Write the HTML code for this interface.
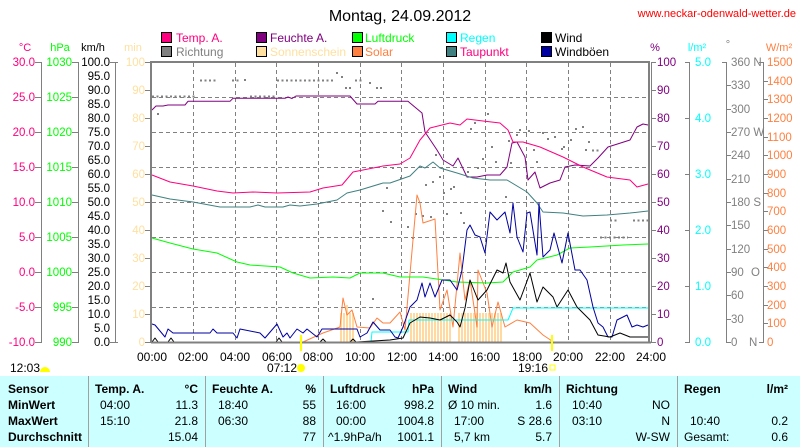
<!DOCTYPE html>
<html><head><meta charset="utf-8"><style>
html,body{margin:0;padding:0;background:#fff}
svg{display:block;font-family:"Liberation Sans",sans-serif}
</style></head><body>
<svg width="800" height="447" viewBox="0 0 800 447" xmlns="http://www.w3.org/2000/svg">
<rect width="800" height="447" fill="#fff"/>
<text x="400" y="21" font-size="16" text-anchor="middle" fill="#000">Montag, 24.09.2012</text>
<text x="796" y="17" font-size="11" text-anchor="end" fill="#ff0000">www.neckar-odenwald-wetter.de</text>
<g font-size="12">
<rect x="161.5" y="32.5" width="10" height="10" fill="#ff0080" stroke="#000"/><text x="176" y="42" fill="#ff0080">Temp. A.</text>
<rect x="161.5" y="46.5" width="10" height="10" fill="#808080" stroke="#000"/><text x="176" y="56" fill="#808080">Richtung</text>
<rect x="256.5" y="32.5" width="10" height="10" fill="#800080" stroke="#000"/><text x="270" y="42" fill="#800080">Feuchte A.</text>
<rect x="256.5" y="46.5" width="10" height="10" fill="#ffe0a0" stroke="#000"/><text x="270" y="56" fill="#ffe0a0">Sonnenschein</text>
<rect x="352.5" y="32.5" width="10" height="10" fill="#00ff00" stroke="#000"/><text x="365" y="42" fill="#00ff00">Luftdruck</text>
<rect x="352.5" y="46.5" width="10" height="10" fill="#ff8040" stroke="#000"/><text x="365" y="56" fill="#ff8040">Solar</text>
<rect x="446.5" y="32.5" width="10" height="10" fill="#00ffff" stroke="#000"/><text x="460" y="42" fill="#00ffff">Regen</text>
<rect x="446.5" y="46.5" width="10" height="10" fill="#408080" stroke="#000"/><text x="460" y="56" fill="#ff0080">Taupunkt</text>
<rect x="541.5" y="32.5" width="10" height="10" fill="#000" stroke="#000"/><text x="555" y="42" fill="#000">Wind</text>
<rect x="541.5" y="46.5" width="10" height="10" fill="#0000a0" stroke="#000"/><text x="555" y="56" fill="#000">Windböen</text>
</g>
<g font-size="11">
<text x="25" y="51" text-anchor="middle" fill="#ff0080">°C</text>
<text x="60" y="51" text-anchor="middle" fill="#00ff00">hPa</text>
<text x="93" y="51" text-anchor="middle" fill="#000">km/h</text>
<text x="133" y="51" text-anchor="middle" fill="#ffe0a0">min</text>
<text x="655" y="51" text-anchor="middle" fill="#800080">%</text>
<text x="697" y="51" text-anchor="middle" fill="#00ffff">l/m²</text>
<text x="728" y="48" text-anchor="middle" fill="#808080">°</text>
<text x="779" y="51" text-anchor="middle" fill="#ff8040">W/m²</text>
</g>
<g stroke="#808080" stroke-width="1" fill="none">
<line x1="41.5" y1="62" x2="41.5" y2="342"/>
<line x1="78.5" y1="62" x2="78.5" y2="342"/>
<line x1="115.5" y1="62" x2="115.5" y2="342"/>
<path d="M35 62.5h7M35 97.5h7M35 132.5h7M35 167.5h7M35 202.5h7M35 237.5h7M35 272.5h7M35 307.5h7M35 342.5h7"/>
<path d="M72 62.5h7M72 97.5h7M72 132.5h7M72 167.5h7M72 202.5h7M72 237.5h7M72 272.5h7M72 307.5h7M72 342.5h7"/>
<path d="M110 62.5h8M110 342.5h8"/>
<path d="M145 62.5h6M145 90.5h6M145 118.5h6M145 146.5h6M145 174.5h6M145 202.5h6M145 230.5h6M145 258.5h6M145 286.5h6M145 314.5h6M145 342.5h6"/>
</g>
<g font-size="11.5" text-anchor="end" fill="#ff0080">
<text x="35" y="66">30.0</text><text x="35" y="101">25.0</text><text x="35" y="136">20.0</text><text x="35" y="171">15.0</text><text x="35" y="206">10.0</text><text x="35" y="241">5.0</text><text x="35" y="276">0.0</text><text x="35" y="311">-5.0</text><text x="35" y="346">-10.0</text>
</g>
<g font-size="11.5" text-anchor="end" fill="#00ff00">
<text x="72" y="66">1030</text><text x="72" y="101">1025</text><text x="72" y="136">1020</text><text x="72" y="171">1015</text><text x="72" y="206">1010</text><text x="72" y="241">1005</text><text x="72" y="276">1000</text><text x="72" y="311">995</text><text x="72" y="346">990</text>
</g>
<g font-size="11.5" text-anchor="end" fill="#000">
<text x="110" y="66">100.0</text><text x="110" y="80">95.0</text><text x="110" y="94">90.0</text><text x="110" y="108">85.0</text><text x="110" y="122">80.0</text><text x="110" y="136">75.0</text><text x="110" y="150">70.0</text><text x="110" y="164">65.0</text><text x="110" y="178">60.0</text><text x="110" y="192">55.0</text><text x="110" y="206">50.0</text><text x="110" y="220">45.0</text><text x="110" y="234">40.0</text><text x="110" y="248">35.0</text><text x="110" y="262">30.0</text><text x="110" y="276">25.0</text><text x="110" y="290">20.0</text><text x="110" y="304">15.0</text><text x="110" y="318">10.0</text><text x="110" y="332">5.0</text><text x="110" y="346">0.0</text>
</g>
<g font-size="11.5" text-anchor="end" fill="#ffe0a0">
<text x="145" y="66">100</text><text x="145" y="94">90</text><text x="145" y="122">80</text><text x="145" y="150">70</text><text x="145" y="178">60</text><text x="145" y="206">50</text><text x="145" y="234">40</text><text x="145" y="262">30</text><text x="145" y="290">20</text><text x="145" y="318">10</text><text x="145" y="346">0</text>
</g>
<g stroke="#808080" fill="none">
<line x1="689.5" y1="62" x2="689.5" y2="342"/>
<line x1="726.5" y1="62" x2="726.5" y2="342"/>
<line x1="763.5" y1="62" x2="763.5" y2="342"/>
<path d="M651 62.5h5M651 90.5h5M651 118.5h5M651 146.5h5M651 174.5h5M651 202.5h5M651 230.5h5M651 258.5h5M651 286.5h5M651 314.5h5M651 342.5h5"/>
<path d="M685 62.5h5M685 118.5h5M685 174.5h5M685 230.5h5M685 286.5h5M685 342.5h5"/>
<path d="M722 62.5h5M726 85.5h5M726 109.5h5M726 132.5h5M726 155.5h5M726 179.5h5M726 202.5h5M726 225.5h5M726 249.5h5M726 272.5h5M726 295.5h5M726 319.5h5M726 342.5h5"/>
<path d="M759 62.5h5M759 342.5h5M763 81.5h5M763 99.5h5M763 118.5h5M763 137.5h5M763 155.5h5M763 174.5h5M763 193.5h5M763 211.5h5M763 230.5h5M763 249.5h5M763 267.5h5M763 286.5h5M763 305.5h5M763 323.5h5"/>
</g>
<g font-size="11.5" fill="#800080">
<text x="657" y="66">100</text><text x="657" y="94">90</text><text x="657" y="122">80</text><text x="657" y="150">70</text><text x="657" y="178">60</text><text x="657" y="206">50</text><text x="657" y="234">40</text><text x="657" y="262">30</text><text x="657" y="290">20</text><text x="657" y="318">10</text><text x="657" y="346">0</text>
</g>
<g font-size="11.5" fill="#00ffff">
<text x="695" y="66">5.0</text><text x="695" y="122">4.0</text><text x="695" y="178">3.0</text><text x="695" y="234">2.0</text><text x="695" y="290">1.0</text><text x="695" y="346">0.0</text>
</g>
<g font-size="11.5" fill="#808080">
<text x="731" y="66">360 N</text><text x="731" y="89">330</text><text x="731" y="113">300</text><text x="731" y="136">270 W</text><text x="731" y="159">240</text><text x="731" y="183">210</text><text x="731" y="206">180 S</text><text x="731" y="229">150</text><text x="731" y="253">120</text><text x="731" y="276">90</text><text x="751" y="276">O</text><text x="731" y="299">60</text><text x="731" y="323">30</text><text x="731" y="346">0</text><text x="749" y="346">N</text>
</g>
<g font-size="11.5" fill="#ff8040">
<text x="767" y="66">1500</text><text x="767" y="85">1400</text><text x="767" y="103">1300</text><text x="767" y="122">1200</text><text x="767" y="141">1100</text><text x="767" y="159">1000</text><text x="767" y="178">900</text><text x="767" y="197">800</text><text x="767" y="215">700</text><text x="767" y="234">600</text><text x="767" y="253">500</text><text x="767" y="271">400</text><text x="767" y="290">300</text><text x="767" y="309">200</text><text x="767" y="327">100</text><text x="767" y="346">0</text>
</g>
<g stroke="#808080" stroke-dasharray="4 3" fill="none">
<path d="M193.5 63V342M235.5 63V342M276.5 63V342M318.5 63V342M360.5 63V342M401.5 63V342M443.5 63V342M485.5 63V342M526.5 63V342M568.5 63V342M610.5 63V342"/>
<path d="M152 97.5H648M152 132.5H648M152 167.5H648M152 202.5H648M152 237.5H648M152 272.5H648M152 307.5H648"/>
</g>
<g stroke="#ffd9a0" stroke-width="2">
<path d="M341 342V313M344 342V313M347 342V305M350 342V313M353 342V313"/>
<path d="M411 342V313M414 342V313M417 342V313M420 342V313M423 342V313M426 342V313M429 342V313M432 342V313M435 342V313M438 342V313M441 342V313M444 342V313M447 342V313M450 342V313"/>
<path d="M459 342V313M462 342V313M465 342V313M468 342V313M471 342V313M474 342V313M477 342V313M480 342V313M483 342V313M486 342V313M489 342V313M492 342V313M495 342V313M498 342V313M501 342V313"/>
</g>
<g stroke="#808080" stroke-width="2" stroke-dasharray="2 2.5" fill="none">
<path d="M152 96.5H196M250 96.5H276"/>
<path d="M200 80.5H216M232 80.5H240M277 80.5H334M355 80.5H364"/>
<path d="M592 150.5H600M610 220.5H618M633 220.5H650M600 237.5H628"/>
</g>
<g fill="#808080">
<rect x="244" y="79" width="2" height="2"/><rect x="157" y="113" width="2" height="2"/><rect x="336" y="72" width="2" height="2"/><rect x="341" y="76" width="2" height="2"/><rect x="345" y="87" width="2" height="2"/><rect x="349" y="87" width="2" height="2"/><rect x="369" y="82" width="2" height="2"/><rect x="376" y="87" width="2" height="2"/><rect x="380" y="87" width="2" height="2"/><rect x="392" y="167" width="2" height="2"/><rect x="386" y="187" width="2" height="2"/><rect x="382" y="210" width="2" height="2"/><rect x="390" y="221" width="2" height="2"/><rect x="372" y="298" width="2" height="2"/>
<rect x="487" y="113" width="2" height="2"/><rect x="474" y="122" width="2" height="2"/><rect x="470" y="128" width="2" height="2"/><rect x="519" y="129" width="2" height="2"/><rect x="528" y="130" width="2" height="2"/><rect x="508" y="140" width="2" height="2"/><rect x="516" y="134" width="2" height="2"/><rect x="491" y="146" width="2" height="2"/><rect x="435" y="154" width="2" height="2"/><rect x="482" y="158" width="2" height="2"/><rect x="495" y="161" width="2" height="2"/><rect x="542" y="132" width="2" height="2"/><rect x="547" y="138" width="2" height="2"/><rect x="554" y="136" width="2" height="2"/><rect x="570" y="139" width="2" height="2"/><rect x="563" y="146" width="2" height="2"/><rect x="561" y="148" width="2" height="2"/><rect x="575" y="128" width="2" height="2"/><rect x="582" y="126" width="2" height="2"/><rect x="588" y="141" width="2" height="2"/><rect x="585" y="149" width="2" height="2"/><rect x="533" y="149" width="2" height="2"/><rect x="510" y="162" width="2" height="2"/><rect x="536" y="161" width="2" height="2"/><rect x="477" y="167" width="2" height="2"/><rect x="467" y="171" width="2" height="2"/><rect x="439" y="176" width="2" height="2"/><rect x="425" y="184" width="2" height="2"/><rect x="432" y="181" width="2" height="2"/><rect x="453" y="186" width="2" height="2"/><rect x="450" y="188" width="2" height="2"/><rect x="443" y="192" width="2" height="2"/><rect x="505" y="196" width="2" height="2"/><rect x="415" y="213" width="2" height="2"/><rect x="422" y="215" width="2" height="2"/><rect x="430" y="216" width="2" height="2"/><rect x="460" y="212" width="2" height="2"/><rect x="446" y="213" width="2" height="2"/><rect x="407" y="226" width="2" height="2"/><rect x="463" y="222" width="2" height="2"/><rect x="412" y="237" width="2" height="2"/><rect x="400" y="177" width="2" height="2"/>
</g>
<g fill="none" stroke-width="1" stroke-linejoin="round">
<polyline stroke="#ff8040" points="303,342 323,333 340,327 343,298 347,315 352,310 357,327 370,328 377,318 383,323 390,323 400,312 405,330 417,195 420,203 423,223 435,219 440,310 447,290 453,327 460,253 465,300 470,280 477,327 478,270 487,293 492,327 498,302 505,327 517,320 530,323 543,335 552,341"/>
<polyline stroke="#800080" points="152,110 156,106 163,106 168,105 185,105 188,101.3 230,101.3 233,98.3 285,98.3 288,97 292,98.5 296,96 350,96 357,104 375,104 378,101.3 408,101.3 410,103 422,113 425,132 437,150 443,160 453,166 458,158 467,177 477,177 487,175 500,175 507,167 512,143 517,142 525,157 528,180 535,172 540,188 550,183 560,180 565,167 575,165 590,166 598,158 608,147 630,140 637,127 643,124 648,125"/>
<polyline stroke="#ff0080" points="152,175 170,182 193,186 217,191 233,193 253,192 277,193 310,192 323,188 342,185 353,172 363,170 383,166 400,164 410,158 420,140 430,128 450,123 460,125 467,119 483,121 500,123 508,130 513,142 523,142 540,147 563,157 583,167 607,177 630,180 637,187 648,184"/>
<polyline stroke="#408080" points="152,195 170,199 193,202 220,207 250,207 258,205 265,207 283,207 290,205 300,206 317,204 337,200 347,193 360,190 383,183 390,183 410,176 420,166 425,168 433,162 440,168 457,173 473,178 490,180 507,180 527,192 537,203 543,212 563,213 583,216 607,215 630,213 648,211"/>
<polyline stroke="#00ff00" points="152,238 170,243 193,249 217,253 237,262 250,265 280,267 293,273 310,278 333,277 350,278 360,273 383,273 400,277 423,277 457,282 487,283 503,282 513,272 530,267 537,260 557,255 570,248 590,247 623,245 648,244"/>
<polyline stroke="#00ffff" points="152,342 371,342 372,332 408,332 409,320 508,320 513,308 648,308"/>
<polyline stroke="#0000a0" points="152,324 155,325 165,337 168,329 173,333 210,333 213,329 217,333 233,333 237,338 240,329 260,333 265,338 277,324 283,337 287,333 290,338 297,329 303,333 307,329 317,337 322,329 357,329 360,337 367,333 373,322 380,330 390,330 395,337 398,338 403,327 410,307 417,300 422,283 425,297 430,283 435,297 442,280 450,280 457,290 462,270 467,230 470,225 475,235 480,237 485,253 490,212 497,220 505,212 510,233 513,203 517,237 523,252 527,213 530,212 537,255 539,203 543,257 550,250 554,233 558,248 562,263 568,233 575,270 580,270 587,280 593,307 598,323 603,327 608,337 612,337 617,320 627,315 632,327 637,325 643,327 648,325"/>
<polyline stroke="#000" points="152,342 155,338 158,342 168,342 171,338 174,342 276,342 279,338 282,342 320,342 323,339 326,342 350,342 353,339 356,342 390,340 403,338 410,323 420,317 430,318 440,320 450,315 457,322 460,327 465,308 470,280 478,300 487,290 497,270 503,273 506,263 510,282 520,300 530,273 537,302 543,287 553,297 557,307 568,290 577,307 590,320 598,335 610,337 620,333 630,337 648,337"/>
</g>
<g stroke="#808080" fill="none">
<path d="M151 343V62H649V343" stroke-width="2"/>
<line x1="651.5" y1="62" x2="651.5" y2="343"/>
<line x1="151" y1="342.5" x2="651" y2="342.5" stroke-width="2"/>
</g>
<line x1="301" y1="335" x2="301" y2="351" stroke="#ffff00" stroke-width="2"/>
<line x1="552" y1="335" x2="552" y2="351" stroke="#ffff00" stroke-width="2"/>
<g font-size="12" text-anchor="middle" fill="#000">
<text x="152" y="361">00:00</text><text x="193" y="361">02:00</text><text x="235" y="361">04:00</text><text x="277" y="361">06:00</text><text x="318" y="361">08:00</text><text x="360" y="361">10:00</text><text x="402" y="361">12:00</text><text x="443" y="361">14:00</text><text x="485" y="361">16:00</text><text x="527" y="361">18:00</text><text x="568" y="361">20:00</text><text x="610" y="361">22:00</text><text x="651" y="361">24:00</text>
<text x="282" y="372">07:12</text><text x="533" y="372">19:16</text><text x="25" y="372">12:03</text>
</g>
<circle cx="301" cy="368" r="4" fill="#ffff00"/>
<rect x="550" y="365" width="5" height="5" fill="none" stroke="#ffff00"/>
<path d="M40 372a5 5 0 0 1 10 0z" fill="#ffff00"/>
<rect x="0" y="376" width="800" height="71" fill="#ccffff"/>
<g stroke="#a0a0a0" stroke-width="1">
<line x1="88.5" y1="376" x2="88.5" y2="447"/><line x1="205.5" y1="376" x2="205.5" y2="447"/><line x1="323.5" y1="376" x2="323.5" y2="447"/><line x1="441.5" y1="376" x2="441.5" y2="447"/><line x1="559.5" y1="376" x2="559.5" y2="447"/><line x1="677.5" y1="376" x2="677.5" y2="447"/>
</g>
<g font-size="12" fill="#000">
<g font-weight="bold"><text x="8" y="393">Sensor</text><text x="8" y="409">MinWert</text><text x="8" y="425">MaxWert</text><text x="8" y="441">Durchschnitt</text>
<text x="95" y="393">Temp. A.</text><text x="198" y="393" text-anchor="end">°C</text>
<text x="212" y="393">Feuchte A.</text><text x="316" y="393" text-anchor="end">%</text>
<text x="330" y="393">Luftdruck</text><text x="434" y="393" text-anchor="end">hPa</text>
<text x="448" y="393">Wind</text><text x="552" y="393" text-anchor="end">km/h</text>
<text x="566" y="393">Richtung</text>
<text x="684" y="393">Regen</text><text x="788" y="393" text-anchor="end">l/m²</text></g>
<text x="100" y="409">04:00</text><text x="198" y="409" text-anchor="end">11.3</text>
<text x="100" y="425">15:10</text><text x="198" y="425" text-anchor="end">21.8</text>
<text x="198" y="441" text-anchor="end">15.04</text>
<text x="218" y="409">18:40</text><text x="316" y="409" text-anchor="end">55</text>
<text x="218" y="425">06:30</text><text x="316" y="425" text-anchor="end">88</text>
<text x="316" y="441" text-anchor="end">77</text>
<text x="336" y="409">16:00</text><text x="434" y="409" text-anchor="end">998.2</text>
<text x="336" y="425">00:00</text><text x="434" y="425" text-anchor="end">1004.8</text>
<text x="328" y="441">^1.9hPa/h</text><text x="434" y="441" text-anchor="end">1001.1</text>
<text x="448" y="409">Ø 10 min.</text><text x="552" y="409" text-anchor="end">1.6</text>
<text x="454" y="425">17:00</text><text x="552" y="425" text-anchor="end">S 28.6</text>
<text x="454" y="441">5,7 km</text><text x="552" y="441" text-anchor="end">5.7</text>
<text x="572" y="409">10:40</text><text x="670" y="409" text-anchor="end">NO</text>
<text x="572" y="425">03:10</text><text x="670" y="425" text-anchor="end">N</text>
<text x="670" y="441" text-anchor="end">W-SW</text>
<text x="690" y="425">10:40</text><text x="788" y="425" text-anchor="end">0.2</text>
<text x="684" y="441">Gesamt:</text><text x="788" y="441" text-anchor="end">0.6</text>
</g>
</svg>
</body></html>
